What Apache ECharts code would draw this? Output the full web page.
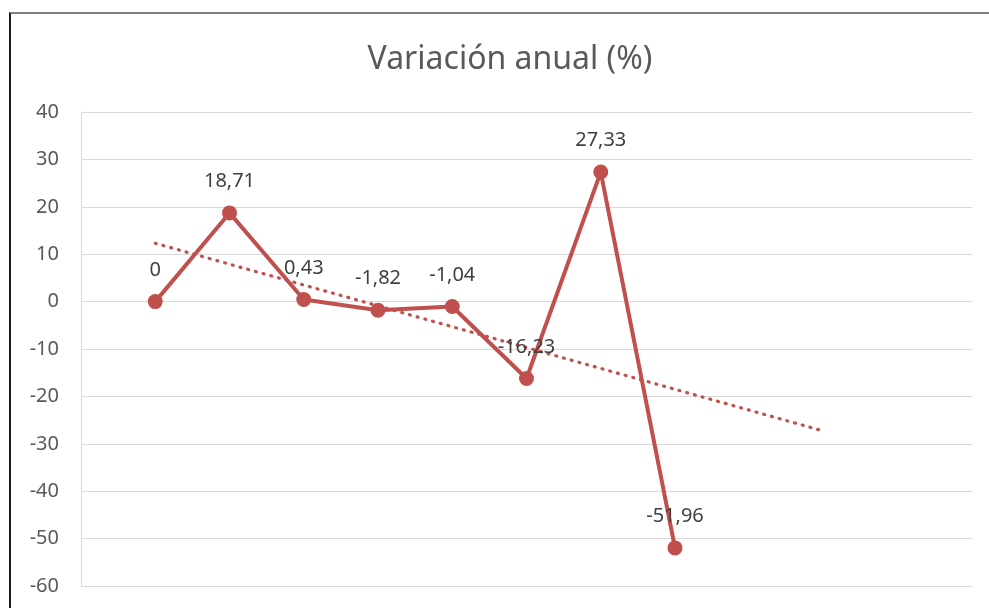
<!DOCTYPE html>
<html>
<head>
<meta charset="utf-8">
<script src="https://cdn.jsdelivr.net/npm/echarts@6/dist/echarts.min.js"></script>
<style>
  html, body { margin: 0; padding: 0; background: #fff; overflow: hidden; }
  #frame {
    position: absolute; left: 9px; top: 12px; width: 1200px; height: 800px;
    border-top: 2px solid #7f7f7f; border-left: 2px solid #1a1a1a;
  }
  #chart { position: absolute; left: 0; top: 0; width: 989px; height: 608px; }
</style>
</head>
<body>
<div id="frame"></div>
<div id="chart"></div>
<script>
// posiciones de los periodos (sin etiqueta en el eje)
const periods = [1, 2, 3, 4, 5, 6, 7, 8];
const variation = [0, 18.71, 0.43, -1.82, -1.04, -16.23, 27.33, -51.96];
// línea de tendencia (extremos)
const trendX = [1, 10];
const trendY = [12.3, -27.3];
const yTicks = { min: -60, max: 40, interval: 10 };

const red = '#c0504d';
const font = '"Noto Sans", "Open Sans", sans-serif';

const chart = echarts.init(document.getElementById('chart'), null, { renderer: 'canvas' });
chart.setOption({
  animation: false,
  title: {
    text: 'Variación anual (%)',
    left: 505,
    textAlign: 'center',
    top: 39,
    textStyle: { color: '#595959', fontSize: 32, fontWeight: 'normal', fontFamily: font },
  },
  grid: { left: 81, right: 17, top: 112, bottom: 22 },
  xAxis: {
    type: 'value',
    min: 0,
    max: 12,
    show: false,
  },
  yAxis: {
    type: 'value',
    min: yTicks.min,
    max: yTicks.max,
    interval: yTicks.interval,
    axisLine: { show: true, lineStyle: { color: '#d9d9d9', width: 1 } },
    axisTick: { show: false },
    axisLabel: { color: '#595959', fontSize: 20, fontFamily: font, margin: 22 },
    splitLine: { show: true, lineStyle: { color: '#d9d9d9', width: 1 } },
  },
  series: [
    {
      name: 'Tendencia',
      type: 'line',
      symbol: 'none',
      silent: true,
      lineStyle: { color: red, width: 3.2, type: [1, 7], cap: 'round' },
      data: trendX.map((x, i) => [x, trendY[i]]),
      z: 1,
    },
    {
      name: 'Variación anual (%)',
      type: 'line',
      symbol: 'circle',
      symbolSize: 15,
      lineStyle: { color: red, width: 4 },
      itemStyle: { color: red },
      label: {
        show: true,
        position: 'top',
        distance: 14,
        color: '#404040',
        fontSize: 20,
        fontFamily: font,
        formatter: p => String(p.value[1]).replace('.', ','),
      },
      data: periods.map((x, i) => [x, variation[i]]),
      z: 2,
    },
  ],
});
</script>
</body>
</html>
